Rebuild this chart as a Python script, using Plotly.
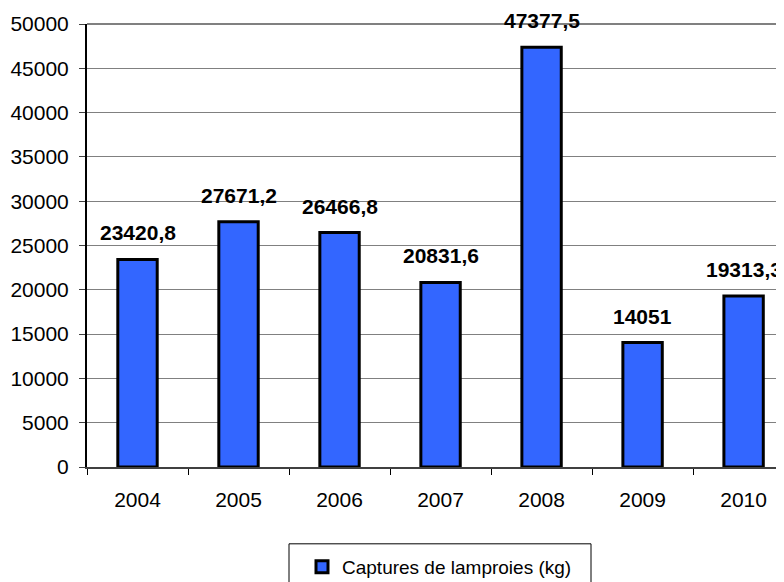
import plotly.graph_objects as go

years = ["2004", "2005", "2006", "2007", "2008", "2009", "2010"]
captures = [23420.8, 27671.2, 26466.8, 20831.6, 47377.5, 14051, 19313.3]
labels = ["23420,8", "27671,2", "26466,8", "20831,6", "47377,5", "14051", "19313,3"]
y_ticks = [0, 5000, 10000, 15000, 20000, 25000, 30000, 35000, 40000, 45000, 50000]

FONT = "Liberation Sans, Arial, sans-serif"

fig = go.Figure()
fig.add_trace(go.Bar(
    x=years, y=captures, name="Captures de lamproies (kg)",
    marker=dict(color="#3366FF", line=dict(color="black", width=3)),
    width=0.39,
))

for i, (y, t) in enumerate(zip(captures, labels)):
    fig.add_annotation(x=i, y=y, xref="x", yref="y", text="<b>" + t + "</b>", showarrow=False,
                       yanchor="bottom", yshift=13,
                       font=dict(family=FONT, size=21, color="black"))

# top border line (50000)
fig.add_shape(type="line", xref="paper", yref="paper", x0=0, x1=1, y0=1, y1=1,
              line=dict(color="#808080", width=2))

# legend frame
fig.add_shape(type="rect", xref="paper", yref="paper",
              x0=(289 - 87) / 697, x1=(591 - 87) / 697,
              y0=(468 - 545) / 444, y1=(468 - 600) / 444,
              line=dict(color="black", width=1), fillcolor="rgba(0,0,0,0)")

fig.update_layout(
    width=776, height=578,
    margin=dict(l=79, r=0, t=16, b=118),
    plot_bgcolor="white", paper_bgcolor="white",
    font=dict(family=FONT, size=21, color="black"),
    showlegend=True,
    legend=dict(x=(302 - 87) / 697, y=(468 - 549) / 444, xanchor="left", yanchor="top",
                bgcolor="rgba(0,0,0,0)", borderwidth=0,
                font=dict(family=FONT, size=19)),
)
fig.update_xaxes(type="category", range=[-0.5, 6.4], tickson="boundaries", ticks="outside",
                 ticklen=6, tickcolor="black", showline=True, linecolor="#404040", linewidth=2,
                 tickfont=dict(family=FONT, size=21), showgrid=False, ticklabelstandoff=13)
fig.update_yaxes(range=[0, 50000], tickvals=y_ticks, ticks="outside", ticklen=6,
                 tickcolor="#404040", showline=True, linecolor="black", linewidth=2,
                 showgrid=True, gridcolor="#808080", gridwidth=1,
                 tickfont=dict(family=FONT, size=21), zeroline=False,
                 tickformat="d", ticklabelstandoff=6)
fig.write_html("out.html")
